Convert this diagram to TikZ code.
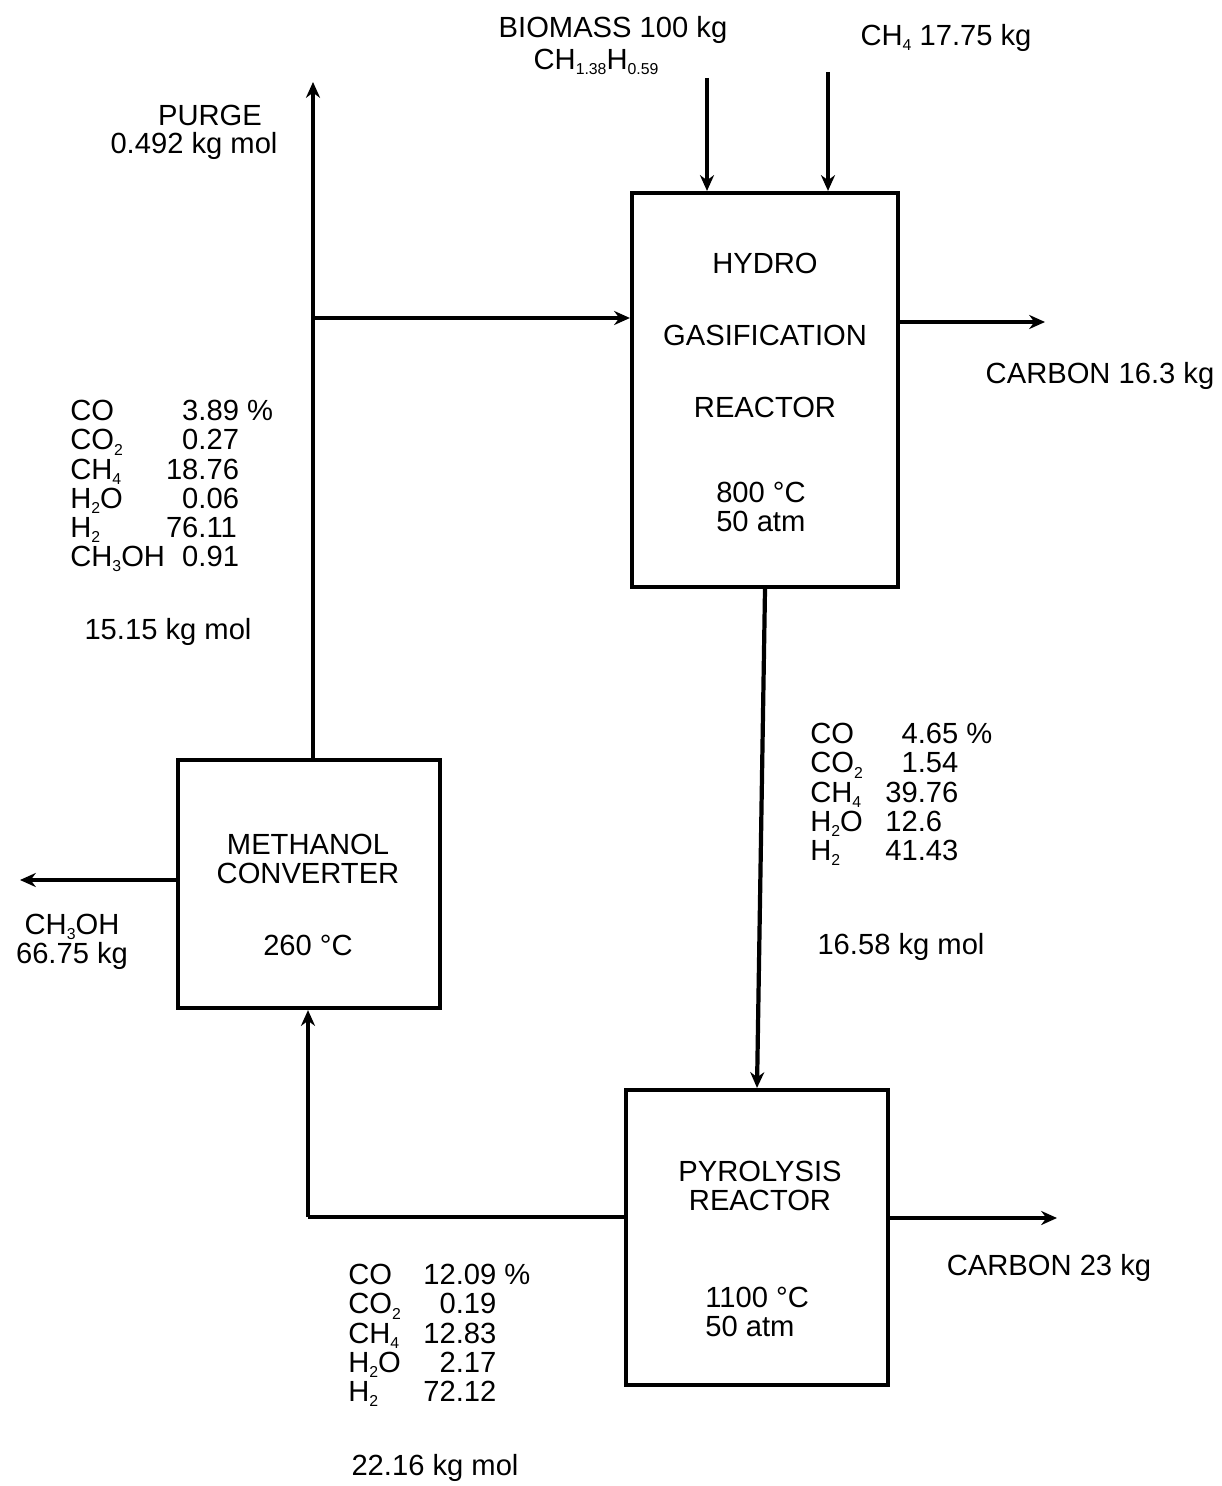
\documentclass[tikz,border=0pt]{standalone}
\usepackage{fontspec}
\setmainfont{Liberation Sans}
\usetikzlibrary{arrows.meta}
\newcommand{\sub}[1]{\raisebox{-0.35ex}{\fontsize{9}{9}\selectfont #1}}
\begin{document}
\begin{tikzpicture}[x=0.02cm,y=-0.02cm,
  every node/.style={font=\fontsize{16.6}{16.6}\selectfont, inner sep=0pt},
  unitbox/.style={draw, line width=2.4pt, minimum width=#1},
  lbl/.style={anchor=center},
  flow/.style={line width=2.4pt, -{Stealth[length=9pt,width=8pt]}},
  plain/.style={line width=2.4pt}]
\useasboundingbox (0,0) rectangle (1221,1486);

% units
\node[unitbox=5.32cm, minimum height=7.88cm] (hydro) at (765,390) {};
\node[unitbox=5.24cm, minimum height=4.96cm] (meth) at (309,884) {};
\node[unitbox=5.24cm, minimum height=5.9cm] (pyro) at (757,1237.5) {};

% unit texts
\node[lbl] (h1) at (765,263) {HYDRO};
\node[lbl] (h2) at (765,335) {GASIFICATION};
\node[lbl] (h3) at (765,407) {REACTOR};
\node[lbl, align=left] (h4) at (761,507) {800 °C\\50 atm};
\node[lbl, align=center] (m1) at (308,859) {METHANOL\\CONVERTER};
\node[lbl] (m2) at (308,945) {260 °C};
\node[lbl, align=center] (p1) at (760,1186) {PYROLYSIS\\REACTOR};
\node[anchor=west, align=left] (p2) at (705,1312) {1100 °C\\50 atm};

% coordinates for free ends
\coordinate (purgeend) at (313,82);
\coordinate (j1) at (313,318);
\coordinate (bio) at (707,78);
\coordinate (ch4in) at (828,72);
\coordinate (c1) at (1045,322);
\coordinate (j2) at (308,1217);
\coordinate (c2) at (1057,1218);
\coordinate (mout) at (20,880);

% connectors
\draw[flow] (meth.north -| purgeend) -- (purgeend);
\draw[flow] (j1) -- (j1 -| hydro.west);
\draw[flow] (bio) -- (bio |- hydro.north);
\draw[flow] (ch4in) -- (ch4in |- hydro.north);
\draw[flow] (c1 -| hydro.east) -- (c1);
\draw[flow] (hydro.south) -- (pyro.north);
\draw[plain] (j2 -| pyro.west) -- (j2);
\draw[flow] (j2) -- (j2 |- meth.south);
\draw[flow] (c2 -| pyro.east) -- (c2);
\draw[flow] (mout -| meth.west) -- (mout);

% labels
\node[lbl] (biomass) at (613,30) {BIOMASS 100 kg};
\node[lbl] (bioform) at (596,62) {CH\sub{1.38}H\sub{0.59}};
\node[lbl] (ch4lbl) at (946,38) {CH\sub{4} 17.75 kg};
\node[lbl] (purge) at (210,115) {PURGE};
\node[lbl] (purgeval) at (194,146) {0.492 kg mol};
\node[lbl] (carb1) at (1100,376) {CARBON 16.3 kg};
\node[lbl] (carb2) at (1049,1268) {CARBON 23 kg};
\node[lbl, align=center] (methout) at (72,942) {CH\sub{3}OH\\66.75 kg};

% compositions
\node[anchor=north west] (comp1) at (70,400) {\begin{tabular}{@{}l@{\hspace{0.02cm}}r@{.}l@{\ }l@{}}
CO & 3&89 & \%\\
CO\sub{2} & 0&27 & \\
CH\sub{4} & 18&76 & \\
H\sub{2}O & 0&06 & \\
H\sub{2} & 76&11 & \\
CH\sub{3}OH & 0&91 &
\end{tabular}};
\node[lbl] (mol1) at (168,632) {15.15 kg mol};

\node[anchor=north west] (comp2) at (810,723) {\begin{tabular}{@{}l@{\hspace{0.45cm}}r@{.}l@{\ }l@{}}
CO & 4&65 & \%\\
CO\sub{2} & 1&54 & \\
CH\sub{4} & 39&76 & \\
H\sub{2}O & 12&6 & \\
H\sub{2} & 41&43 &
\end{tabular}};
\node[lbl] (mol2) at (901,947) {16.58 kg mol};

\node[anchor=north west] (comp3) at (348,1264) {\begin{tabular}{@{}l@{\hspace{0.45cm}}r@{.}l@{\ }l@{}}
CO & 12&09 & \%\\
CO\sub{2} & 0&19 & \\
CH\sub{4} & 12&83 & \\
H\sub{2}O & 2&17 & \\
H\sub{2} & 72&12 &
\end{tabular}};
\node[lbl] (mol3) at (435,1468) {22.16 kg mol};
\end{tikzpicture}
\end{document}
